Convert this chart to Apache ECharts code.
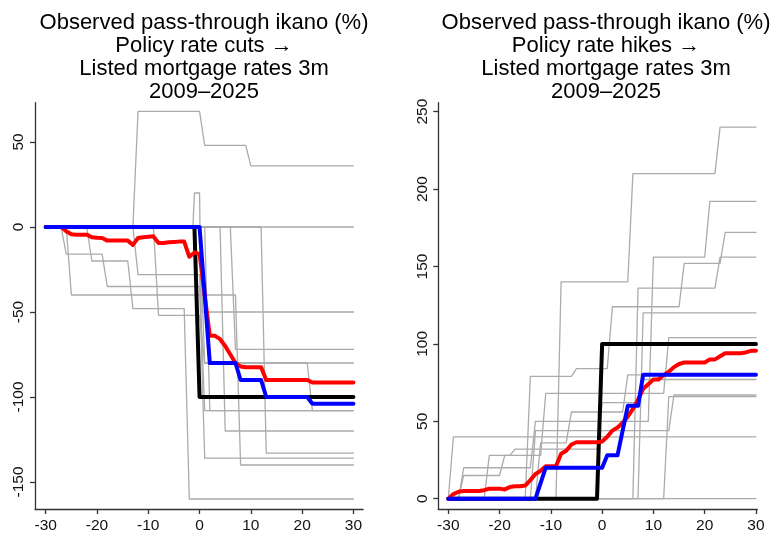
<!DOCTYPE html>
<html>
<head>
<meta charset="utf-8">
<script src="https://cdn.jsdelivr.net/npm/echarts@6/dist/echarts.min.js"></script>
<style>
html,body{margin:0;padding:0;background:#fff;}
#chart{width:771px;height:535px;}
</style>
</head>
<body>
<div id="chart"></div>
<script>
// ---------- data ----------
const xTicks = [-30, -20, -10, 0, 10, 20, 30];
const cutYTicks = [-150, -100, -50, 0, 50];
const hikeYTicks = [0, 50, 100, 150, 200, 250];
const months = [-30,-29,-28,-27,-26,-25,-24,-23,-22,-21,-20,-19,-18,-17,-16,-15,-14,-13,-12,-11,-10,-9,-8,-7,-6,-5,-4,-3,-2,-1,0,1,2,3,4,5,6,7,8,9,10,11,12,13,14,15,16,17,18,19,20,21,22,23,24,25,26,27,28,29,30];

const titleCuts = "Observed pass-through ikano (%)\nPolicy rate cuts \u2192\nListed mortgage rates 3m\n2009\u20132025";
const titleHikes = "Observed pass-through ikano (%)\nPolicy rate hikes \u2192\nListed mortgage rates 3m\n2009\u20132025";

// Cuts panel: individual episodes (vertices [x, y])
const cutsGray = [
  [[-30,0],[-13,0],[-12,68],[0,68],[1,48],[9,48],[10,36],[30,36]],
  [[-30,0],[-1.3,0],[-1,20],[0,20],[0.3,-50],[30,-50]],
  [[-30,0],[30,0]],
  [[-30,0],[-27,0],[-26,-16],[-19,-16],[-18,-35],[0,-35],[1,-136],[30,-136]],
  [[-30,0],[-26,0],[-25,-40],[7,-40],[8,-140],[30,-140]],
  [[-30,0],[-13,0],[-12,-28],[0,-28],[1,-108],[30,-108]],
  [[-30,0],[-22,0],[-21,-20],[-14,-20],[-13,-48],[-3,-48],[-2,-160],[30,-160]],
  [[-30,0],[-9,0],[-8,-52],[0,-52],[1,-80],[21,-80],[22,-108],[30,-108]],
  [[-30,0],[0,0],[1,-80],[30,-80]],
  [[-30,0],[1,0],[2,-108],[30,-108]],
  [[-30,0],[4,0],[5,-120],[30,-120]],
  [[-30,0],[6,0],[7,-72],[30,-72]],
  [[-30,0],[12,0],[13,-133],[30,-133]]
];
const cutsMean = [0,0,0,0,-2.5,-4.3,-4.5,-4.5,-4.5,-6,-6.3,-6.5,-8,-8,-8,-8,-8,-10.5,-6.5,-6,-5.7,-5.5,-9.4,-9.4,-9,-8.8,-8.6,-8.6,-17.5,-15,-16,-40,-64,-64,-66,-70,-75,-80,-82,-82.5,-82.5,-82.5,-82.5,-90,-90,-90,-90,-90,-90,-90,-90,-90,-91.5,-91.5,-91.5,-91.5,-91.5,-91.5,-91.5,-91.5,-91.5];
const cutsMedian = [[-30,0],[0,0],[2,-80],[7,-80],[8,-90],[12,-90],[13,-100],[21,-100],[22,-104],[30,-104]];
const cutsPolicy = [[-30,0],[-1,0],[0,-100],[30,-100]];

// Hikes panel
const hikesGray = [
  [[-30,0],[-9,0],[-8,140],[5,140],[6,210],[22,210],[23,240],[30,240]],
  [[-30,0],[-28,0],[-27,20],[-14,20],[-13,50],[9,50],[10,156],[20,156],[21,192],[30,192]],
  [[-30,0],[-15,0],[-14,79],[-6,79],[-5,84],[1,84],[2,124],[15,124],[16,152],[23,152],[24,172],[30,172]],
  [[-30,0],[6,0],[7,136],[22,136],[23,156],[30,156]],
  [[-30,0],[7,0],[8,120],[30,120]],
  [[-30,0],[-29,40],[30,40]],
  [[-30,0],[-28,0],[-27,15],[-20,15],[-19,28],[-12,28],[-11,68],[12,68],[13,104],[30,104]],
  [[-30,0],[-23,0],[-22,28],[-18,28],[-17,32],[-1,32],[0,62],[7,62],[8,77],[30,77]],
  [[-30,0],[-14,0],[-13,44],[13,44],[14,67],[30,67]],
  [[-30,0],[12,0],[13,66],[30,66]],
  [[-30,0],[30,0]],
  [[-30,0],[-13,0],[-12,36],[-7,36],[-6,56],[4,56],[5,80],[30,80]]
];
const hikesMean = [0,3,4.5,5,5,5,5,5.5,6.5,6.5,6.5,6,7.5,8,8,8.5,12,16,18,21,21,21,29,31,35,36.5,36.5,36.5,36.5,36.5,37,40,44,46,49,53,58,64,71,74,77,77,80,82,85,87,88,88,88,88,88,90,90,92,94,94,94,94,94.5,95.5,95.5];
const hikesMedian = [[-30,0],[-13,0],[-11,20],[0,20],[1,28],[3,28],[5,60],[7,60],[8,80],[30,80]];
const hikesPolicy = [[-30,0],[-1,0],[0,100],[30,100]];

// ---------- chart ----------
const FONT = "'Liberation Sans', Arial, sans-serif";
const axisColor = '#333';
function xAxisCfg(gi, min, max) {
  return {
    type: 'value', gridIndex: gi, min: min, max: max,
    axisLine: {show: true, onZero: false, lineStyle: {color: axisColor, width: 1.3}},
    axisTick: {show: true, length: 5, customValues: xTicks, lineStyle: {color: axisColor, width: 1.3}},
    axisLabel: {customValues: xTicks, fontSize: 15.5, color: '#111', margin: 9, fontFamily: FONT},
    splitLine: {show: false}
  };
}
function yAxisCfg(gi, min, max, ticks) {
  return {
    type: 'value', gridIndex: gi, min: min, max: max,
    axisLine: {show: true, onZero: false, lineStyle: {color: axisColor, width: 1.3}},
    axisTick: {show: true, length: 5, customValues: ticks, lineStyle: {color: axisColor, width: 1.3}},
    axisLabel: {customValues: ticks, fontSize: 15.5, color: '#111', margin: 8, rotate: 90, fontFamily: FONT},
    splitLine: {show: false}
  };
}
function lineSeries(gi, data, color, width, z) {
  return {
    type: 'line', xAxisIndex: gi, yAxisIndex: gi, data: data,
    showSymbol: false, symbol: 'none', silent: true, z: z,
    lineStyle: {color: color, width: width, join: 'round', cap: 'round'}
  };
}
const series = [];
cutsGray.forEach(d => series.push(lineSeries(0, d, '#ababab', 1.3, 2)));
hikesGray.forEach(d => series.push(lineSeries(1, d, '#ababab', 1.3, 2)));
series.push(lineSeries(0, cutsPolicy, '#000000', 4, 3));
series.push(lineSeries(1, hikesPolicy, '#000000', 4, 3));
series.push(lineSeries(0, months.map((m, i) => [m, cutsMean[i]]), '#ff0000', 4, 4));
series.push(lineSeries(1, months.map((m, i) => [m, hikesMean[i]]), '#ff0000', 4, 4));
series.push(lineSeries(0, cutsMedian, '#0000ff', 4, 5));
series.push(lineSeries(1, hikesMedian, '#0000ff', 4, 5));

const chart = echarts.init(document.getElementById('chart'), null, {renderer: 'canvas'});
chart.setOption({
  animation: false,
  backgroundColor: '#ffffff',
  title: [
    {text: titleCuts, left: 199, top: 7, textAlign: 'center',
     textStyle: {fontSize: 22, fontWeight: 'normal', color: '#000', lineHeight: 22.8, fontFamily: FONT}},
    {text: titleHikes, left: 601, top: 7, textAlign: 'center',
     textStyle: {fontSize: 22, fontWeight: 'normal', color: '#000', lineHeight: 22.8, fontFamily: FONT}}
  ],
  grid: [
    {left: 35, top: 102.7, width: 328, height: 406.3, containLabel: false},
    {left: 438.3, top: 102.7, width: 319, height: 406.3, containLabel: false}
  ],
  xAxis: [xAxisCfg(0, -32.09, 31.87), xAxisCfg(1, -31.95, 30.26)],
  yAxis: [yAxisCfg(0, -165.88, 73.12, cutYTicks), yAxisCfg(1, -6.65, 255.8, hikeYTicks)],
  series: series
});
</script>
</body>
</html>
